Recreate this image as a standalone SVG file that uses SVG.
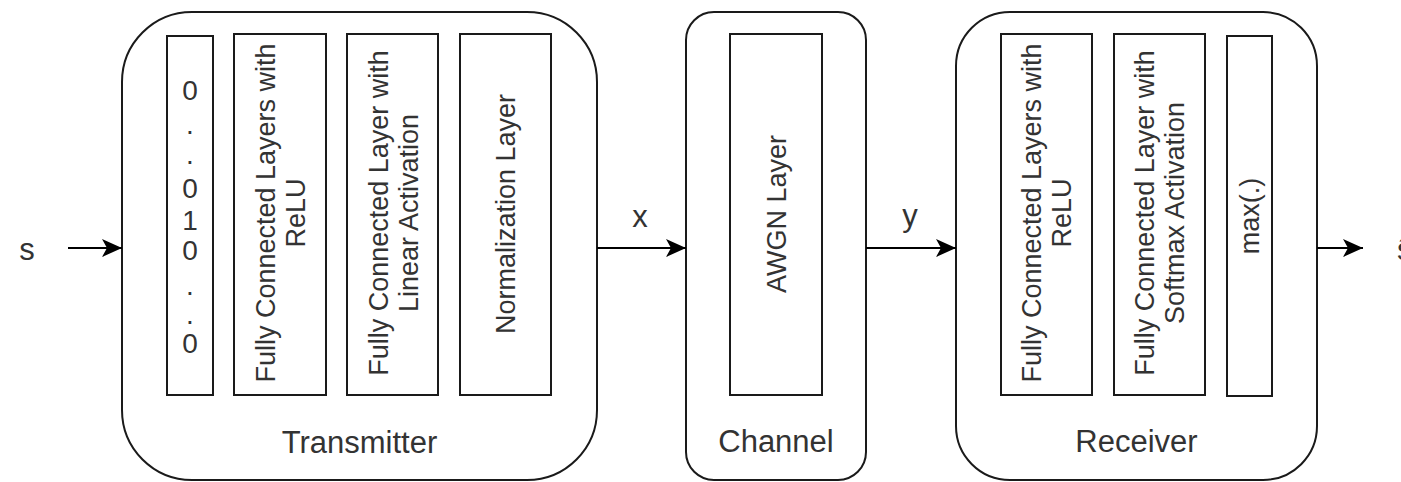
<svg xmlns="http://www.w3.org/2000/svg" width="1401" height="482" viewBox="0 0 1401 482">
<style>
.outer{fill:#fff;stroke:#1a1a1a;stroke-width:2}
.inner{fill:#fff;stroke:#1a1a1a;stroke-width:2}
.lbl{font-family:"Liberation Sans",Arial,sans-serif;font-size:31px;fill:#333;text-anchor:middle}
.vt{font-family:"Liberation Sans",Arial,sans-serif;font-size:27px;fill:#333;text-anchor:middle}
.dg{font-family:"Liberation Sans",Arial,sans-serif;font-size:28px;fill:#333;text-anchor:middle}
.conn{stroke:#000;stroke-width:2;fill:none;marker-end:url(#arr)}
</style>
<defs>
<marker id="arr" markerUnits="userSpaceOnUse" markerWidth="24" markerHeight="24" viewBox="-22 -12 24 24" refX="0" refY="0" orient="auto">
<path d="M-20,-9 L0,0 L-20,9 L-15,0 Z" fill="#000"/>
</marker>
</defs>
<rect width="1401" height="482" fill="#fff"/>
<g id="transmitter">
<rect class="outer" x="122" y="12" width="475" height="468" rx="70" ry="70"/>
<text class="lbl" x="359.5" y="453">Transmitter</text>
</g>
<g id="onehot">
<rect class="inner" x="167" y="36" width="46" height="359"/>
<text class="dg" x="190" y="100">0</text>
<text class="dg" x="190" y="134">.</text>
<text class="dg" x="190" y="164">.</text>
<text class="dg" x="190" y="198">0</text>
<text class="dg" x="190" y="230">1</text>
<text class="dg" x="190" y="260">0</text>
<text class="dg" x="190" y="295">.</text>
<text class="dg" x="190" y="324">.</text>
<text class="dg" x="190" y="353">0</text>
</g>
<g id="tx-fc-relu">
<rect class="inner" x="234" y="34" width="92" height="361"/>
<text class="vt" transform="translate(0,213) rotate(-90)"><tspan x="0" y="275">Fully Connected Layers with</tspan><tspan x="0" y="305">ReLU</tspan></text>
</g>
<g id="tx-fc-linear">
<rect class="inner" x="347" y="34" width="91" height="361"/>
<text class="vt" transform="translate(0,213) rotate(-90)"><tspan x="0" y="388">Fully Connected Layer with</tspan><tspan x="0" y="418">Linear Activation</tspan></text>
</g>
<g id="tx-norm">
<rect class="inner" x="460" y="34" width="91" height="361"/>
<text class="vt" transform="translate(0,214) rotate(-90)" x="0" y="515">Normalization Layer</text>
</g>
<g id="channel">
<rect class="outer" x="686" y="12" width="180" height="468" rx="28" ry="28"/>
<text class="lbl" x="776" y="452">Channel</text>
</g>
<g id="awgn">
<rect class="inner" x="730" y="34" width="92" height="361"/>
<text class="vt" transform="translate(0,214) rotate(-90)" x="0" y="786">AWGN Layer</text>
</g>
<g id="receiver">
<rect class="outer" x="956" y="12" width="361" height="468" rx="54" ry="54"/>
<text class="lbl" x="1136.5" y="452">Receiver</text>
</g>
<g id="rx-fc-relu">
<rect class="inner" x="1001" y="34" width="91" height="361"/>
<text class="vt" transform="translate(0,213) rotate(-90)"><tspan x="0" y="1041">Fully Connected Layers with</tspan><tspan x="0" y="1071">ReLU</tspan></text>
</g>
<g id="rx-fc-softmax">
<rect class="inner" x="1114" y="34" width="91" height="361"/>
<text class="vt" transform="translate(0,213) rotate(-90)"><tspan x="0" y="1154">Fully Connected Layer with</tspan><tspan x="0" y="1184">Softmax Activation</tspan></text>
</g>
<g id="rx-max">
<rect class="inner" x="1227" y="36" width="45" height="360"/>
<text class="vt" transform="translate(0,216) rotate(-90)" x="0" y="1259">max(.)</text>
</g>
<g id="connectors">
<line class="conn" x1="68" y1="248" x2="122" y2="248"/>
<line class="conn" x1="597" y1="248" x2="686" y2="248"/>
<line class="conn" x1="866" y1="248" x2="956" y2="248"/>
<line class="conn" x1="1317" y1="248" x2="1363" y2="248"/>
<text class="lbl" x="27" y="260">s</text>
<text class="lbl" x="640" y="227">x</text>
<text class="lbl" x="910" y="226">y</text>
<text class="lbl" x="1397" y="260" style="text-anchor:start">ŝ</text>
</g>
</svg>
